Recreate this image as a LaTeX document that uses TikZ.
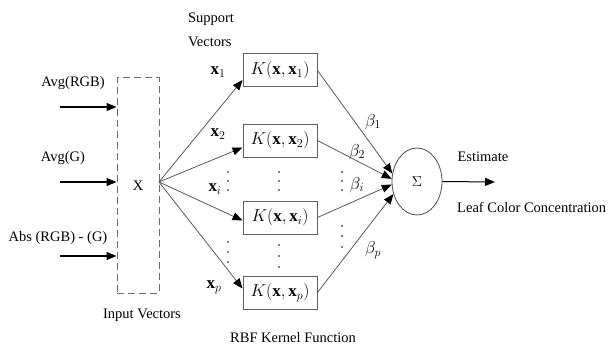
\documentclass[tikz,border=0pt]{standalone}
\usepackage{fontspec}
\setmainfont{Liberation Serif}
\usetikzlibrary{arrows.meta,shapes.geometric}
\tikzset{
	lbl/.style={font=\fontsize{14.5}{17}\selectfont, inner sep=0pt},
	mlbl/.style={font=\fontsize{17}{20}\selectfont, inner sep=0pt},
	inbox/.style={lbl, draw=gray!85!black, dash pattern=on 7pt off 4pt, line width=1pt, minimum width=42pt, minimum height=215pt},
	kbox/.style={mlbl, draw=gray!75!black, line width=1pt, fill=white, minimum width=74pt, minimum height=33pt},
	sumnode/.style={lbl, ellipse, draw=gray!60!black, line width=0.8pt, minimum width=50pt, minimum height=67pt},
	arr/.style={-{Triangle[length=10pt,width=8pt,black]}, line width=0.8pt, draw=gray!70!black},
	inarr/.style={-{Triangle[length=10pt,width=8pt]}, line width=1.2pt}
}
\begin{document}
\begin{tikzpicture}[x=1pt,y=-1pt]
	\useasboundingbox (0,0) rectangle (612,350);
	
	% input layer
	\node[inbox] (inbox) at (138,185.5) {X};
	\node[lbl] (invec) at (142,315) {Input Vectors};
	\coordinate (in1) at (60,107);
	\coordinate (in2) at (60,182);
	\coordinate (in3) at (60,256);
	\node[lbl] (lin1) at (73,83) {Avg(RGB)};
	\node[lbl] (lin2) at (63,158) {Avg(G)};
	\node[lbl] (lin3) at (58,238) {Abs (RGB) - (G)};
	\draw[inarr] (in1) -- (in1 -| inbox.west);
	\draw[inarr] (in2) -- (in2 -| inbox.west);
	\draw[inarr] (in3) -- (in3 -| inbox.west);
	
	% kernel layer
	\node[lbl, align=left, font=\fontsize{14.5}{24}\selectfont] (sv) at (211,30) {Support\\Vectors};
	\node[kbox] (k1) at (280,70.5) {$K\Big(\mathbf{x},\mathbf{x}_1\Big)$};
	\node[kbox] (k2) at (280,140.5) {$K\Big(\mathbf{x},\mathbf{x}_2\Big)$};
	\node[kbox] (ki) at (280,217.5) {$K\Big(\mathbf{x},\mathbf{x}_i\Big)$};
	\node[kbox] (kp) at (280,292.5) {$K\Big(\mathbf{x},\mathbf{x}_p\Big)$};
	\node[lbl] (rbf) at (293,338) {RBF Kernel Function};
	
	\coordinate (fan) at (159,182);
	\draw[arr] (fan) -- ([yshift=-9.5pt]k1.west);
	\draw[arr] (fan) -- ([yshift=-7pt]k2.west);
	\draw[arr] (fan) -- ([yshift=-3pt]ki.west);
	\draw[arr] (fan) -- ([yshift=4pt]kp.west);
	\node[mlbl] (x1) at (218,72) {$\mathbf{x}_1$};
	\node[mlbl] (x2) at (218,134) {$\mathbf{x}_2$};
	\node[mlbl] (xi) at (215,189) {$\mathbf{x}_i$};
	\node[mlbl] (xp) at (214,287) {$\mathbf{x}_p$};
	
	% output
	\node[sumnode] (sum) at (417,181.5) {$\Sigma$};
	\draw[arr] (k1.east) -- (sum.162);
	\draw[arr] (k2.east) -- (sum.174);
	\draw[arr] (ki.east) -- (sum.187);
	\draw[arr] (kp.east) -- (sum.208);
	\node[mlbl] (b1) at (373,122) {$\beta_1$};
	\node[mlbl] (b2) at (357,152) {$\beta_2$};
	\node[mlbl] (bi) at (357,185) {$\beta_i$};
	\node[mlbl] (bp) at (373,250) {$\beta_p$};
	
	\coordinate (out) at (495,182);
	\draw[inarr, line width=1pt] (sum.east) -- (out);
	\node[lbl] (est) at (483,157) {Estimate};
	\node[lbl, anchor=west] (leaf) at (457,207) {Leaf Color Concentration};
	
	% dots
	\foreach \x in {228,279,342}
		\foreach \y in {172,181,190}
			\fill (\x,\y) circle (0.9pt);
	\foreach \y in {242,252,262} \fill (228,\y) circle (0.9pt);
	\foreach \y in {245,256,267} \fill (279,\y) circle (0.9pt);
	\foreach \y in {226,236,247} \fill (342,\y) circle (0.9pt);
\end{tikzpicture}
\end{document}
